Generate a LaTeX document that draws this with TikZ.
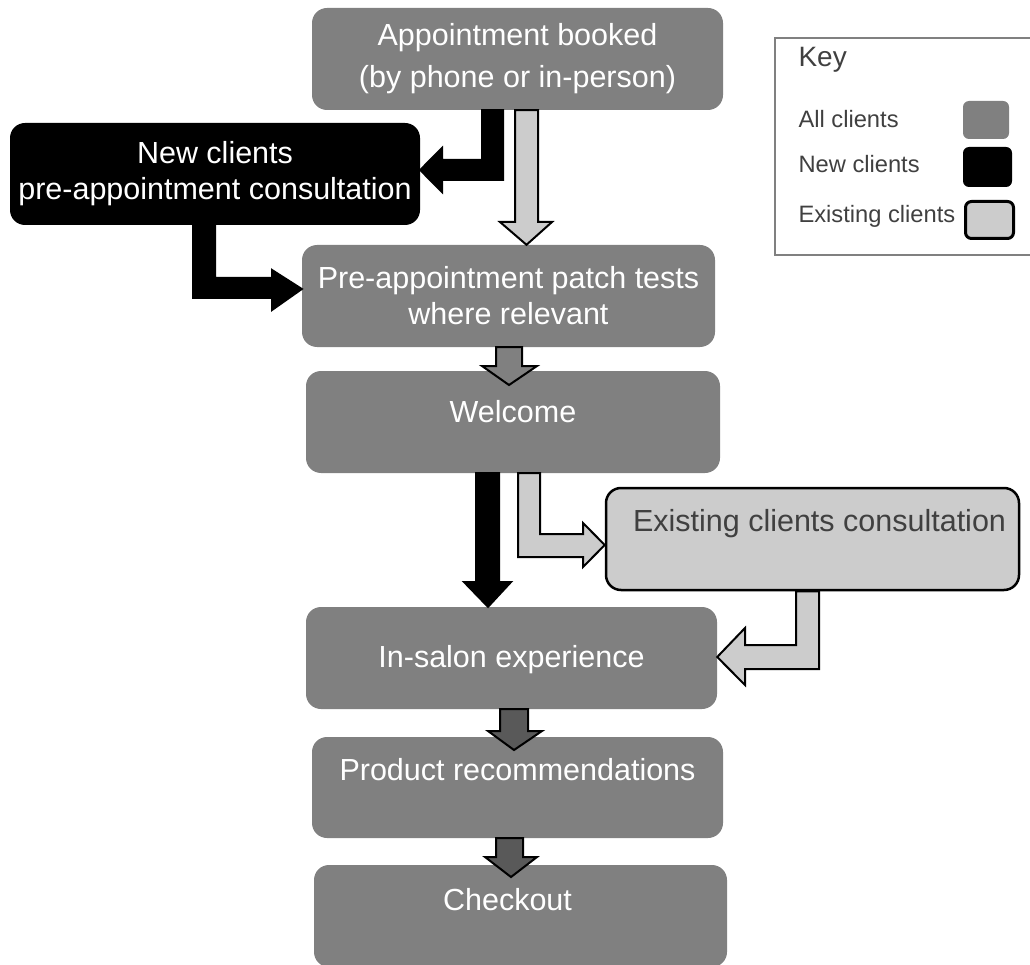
\documentclass[tikz,border=0pt]{standalone}
\usepackage{fontspec}
\setmainfont{Liberation Sans}
\usetikzlibrary{positioning}
\definecolor{allgray}{HTML}{808080}
\definecolor{exgray}{HTML}{CCCCCC}
\definecolor{darkarrow}{HTML}{595959}
\definecolor{keytext}{HTML}{404040}

\begin{document}
\begin{tikzpicture}[x=1pt, y=-1pt,
        box/.style={rounded corners=15pt, inner sep=0pt, align=center, fill=allgray, text=white, font=\fontsize{30.5}{36}\selectfont, minimum height=102pt},
        lift/.style={text height=22pt, text depth=#1},
        blockarrow/.style={draw=black, line width=2pt, miter limit=10},
        keylabel/.style={anchor=base west, text=keytext, font=\fontsize{23.7}{28}\selectfont},
        swatch/.style={rounded corners=6pt, inner sep=0pt}]
        \useasboundingbox (0,0) rectangle (1030,965);

        \node[box, minimum width=411pt] (book) at (517.5,59) {Appointment booked\\[6pt](by phone or in-person)};
        \node[box, fill=black, minimum width=410pt] (newc) at (215,174) {New clients\\pre-appointment consultation};
        \node[box, minimum width=413pt] (patch) at (508.5,296) {Pre-appointment patch tests\\where relevant};
        \node[box, lift=21pt, minimum width=414pt] (welcome) at (513,422) {Welcome};
        \node[box, lift=38pt, fill=exgray, draw=black, line width=2.5pt, text=keytext, minimum width=413pt, minimum height=102pt] (exist) at (812.5,539) {\hspace*{14pt}Existing clients consultation};
        \node[box, lift=4pt, minimum width=411pt] (salon) at (511.5,658) {In-salon experience};
        \node[box, lift=37pt, minimum width=411pt, minimum height=101pt] (product) at (517.5,787.5) {Product recommendations};
        \node[box, lift=33pt, minimum width=413pt] (checkout) at (520.5,916) {\hspace*{-26pt}Checkout};

        \filldraw[blockarrow, fill=black] (482,0 |- book.south) -- (503,0 |- book.south) -- (503,180) -- (442,180) -- (442,192) -- (newc.east |- 0,170) -- (442,148) -- (442,160) -- (482,160) -- cycle;
        \filldraw[blockarrow, fill=exgray] (515,0 |- book.south) -- (538,0 |- book.south) -- (538,222) -- (552,222) -- (526.5,0 |- patch.north) -- (500,222) -- (515,222) -- cycle;
        \filldraw[blockarrow, fill=black] (193,0 |- newc.south) -- (215,0 |- newc.south) -- (215,278) -- (272,278) -- (272,270) -- (patch.west |- 0,289) -- (272,310) -- (272,298) -- (193,298) -- cycle;
        \filldraw[blockarrow, fill=allgray] (496,0 |- patch.south) -- (522,0 |- patch.south) -- (522,366) -- (537,366) -- (509,385) -- (482,366) -- (496,366) -- cycle;
        \filldraw[blockarrow, fill=black] (476,0 |- welcome.south) -- (499,0 |- welcome.south) -- (499,582) -- (511,582) -- (488,0 |- salon.north) -- (464,582) -- (476,582) -- cycle;
        \filldraw[blockarrow, fill=exgray] (518,0 |- welcome.south) -- (540,0 |- welcome.south) -- (540,534) -- (583,534) -- (583,523) -- (exist.west |- 0,545) -- (583,567) -- (583,557) -- (518,557) -- cycle;
        \filldraw[blockarrow, fill=exgray] (796,0 |- exist.south) -- (819,0 |- exist.south) -- (819,669) -- (745,669) -- (745,685) -- (salon.east |- 0,657) -- (745,628) -- (745,645) -- (796,645) -- cycle;
        \filldraw[blockarrow, fill=darkarrow] (500,0 |- salon.south) -- (528,0 |- salon.south) -- (528,731) -- (542,731) -- (514,750) -- (488,731) -- (500,731) -- cycle;
        \filldraw[blockarrow, fill=darkarrow] (496,0 |- product.south) -- (523,0 |- product.south) -- (523,857) -- (537,857) -- (511,877) -- (485,857) -- (496,857) -- cycle;

        \node[draw=allgray, line width=1.5pt, inner sep=0pt, minimum width=259pt, minimum height=217pt] (key) at (904.5,146.5) {};
        \node[keylabel, font=\fontsize{28}{32}\selectfont] (keytitle) at (795,67) {Key};
        \node[keylabel] (alltext) at (795,128) {All clients};
        \node[keylabel] (newtext) at (795,173) {New clients};
        \node[keylabel] (existtext) at (795,223) {Existing clients};
        \node[swatch, fill=allgray, minimum width=46pt, minimum height=38pt] (allswatch) at (986,120) {};
        \node[swatch, fill=black, minimum width=49pt, minimum height=40pt] (newswatch) at (987.5,167) {};
        \node[swatch, fill=exgray, draw=black, line width=3pt, minimum width=48pt, minimum height=37pt] (existswatch) at (989.5,220) {};
\end{tikzpicture}
\end{document}
